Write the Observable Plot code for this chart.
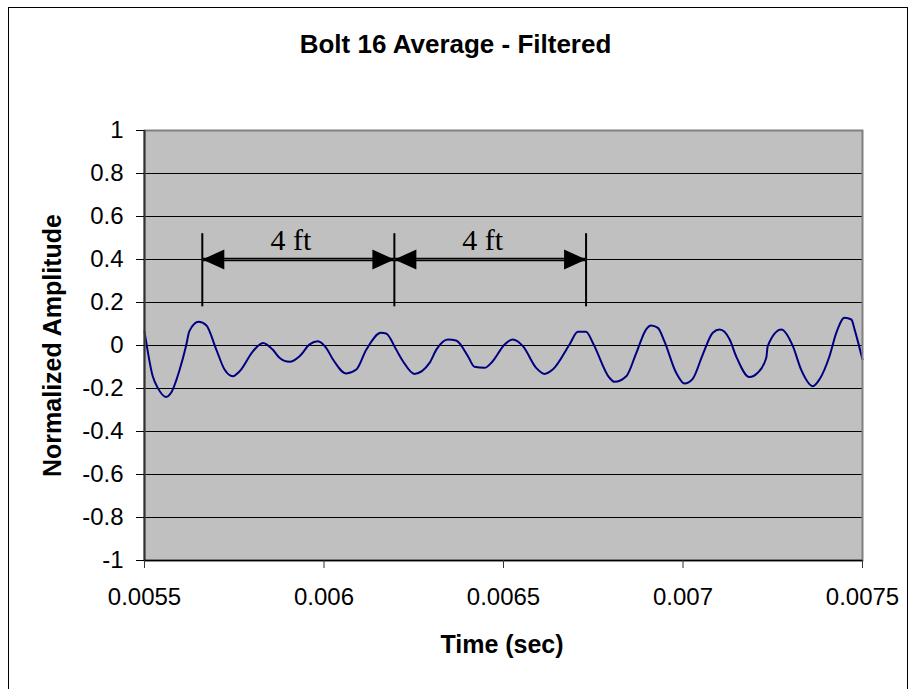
<!DOCTYPE html>
<html>
<head>
<meta charset="utf-8">
<script src="https://cdn.jsdelivr.net/npm/d3@7"></script>
<script src="https://cdn.jsdelivr.net/npm/@observablehq/plot@0.6"></script>
<style>
  html, body { margin: 0; padding: 0; background: #fff; overflow: hidden; }
  #wrap { position: relative; width: 912px; height: 689px; }
  #border { position: absolute; left: 8px; top: 7px; width: 900px; height: 720px; border: 1px solid #000; box-sizing: border-box; pointer-events: none; }
  svg { display: block; }
</style>
</head>
<body>
<div id="wrap"><div id="border"></div></div>
<script>
const time = [0.0055, 0.005523, 0.005537, 0.005560, 0.005574, 0.005598, 0.005616, 0.005625, 0.005651, 0.005672,
  0.005700, 0.005723, 0.005746, 0.005765, 0.005802, 0.005830, 0.005857, 0.005876, 0.005904, 0.005932,
  0.005960, 0.005983, 0.006006, 0.006025, 0.006062, 0.006090, 0.006118, 0.006159, 0.006173, 0.006201,
  0.006220, 0.006252, 0.006294, 0.006313, 0.006345, 0.006368, 0.006401, 0.006419, 0.006447, 0.006470,
  0.006503, 0.006526, 0.006554, 0.006591, 0.006614, 0.006637, 0.006684, 0.006707, 0.006730, 0.006749,
  0.006795, 0.006809, 0.006842, 0.006870, 0.006897, 0.006911, 0.006930, 0.006948, 0.006981, 0.007004,
  0.007027, 0.007055, 0.007083, 0.007102, 0.007130, 0.007148, 0.007185, 0.007208, 0.007232, 0.007236,
  0.007274, 0.007306, 0.007329, 0.007362, 0.007380, 0.007408, 0.007427, 0.007450, 0.007469, 0.007478, 0.0075];
const amplitude = [0.066, -0.143, -0.197, -0.239, -0.22, -0.112, 0, 0.067, 0.11, 0.094,
  -0.019, -0.112, -0.143, -0.12, -0.027, 0.012, -0.019, -0.057, -0.076, -0.05,
  0.005, 0.02, -0.011, -0.065, -0.13, -0.112, -0.019, 0.059, 0.056, -0.019,
  -0.073, -0.132, -0.081, -0.019, 0.028, 0.023, -0.05, -0.099, -0.104, -0.073,
  0.005, 0.028, -0.003, -0.104, -0.132, -0.112, 0.005, 0.064, 0.064, 0.012,
  -0.15, -0.169, -0.143, -0.034, 0.074, 0.093, 0.082, 0.02, -0.127, -0.177,
  -0.155, -0.042, 0.059, 0.074, 0.028, -0.05, -0.147, -0.127, -0.057, -0.003,
  0.074, -0.003, -0.112, -0.189, -0.158, -0.05, 0.059, 0.129, 0.121, 0.074, -0.065];

const xTicks = [0.0055, 0.006, 0.0065, 0.007, 0.0075];
const xTickLabels = ["0.0055", "0.006", "0.0065", "0.007", "0.0075"];
const yTicks = [-1, -0.8, -0.6, -0.4, -0.2, 0, 0.2, 0.4, 0.6, 0.8, 1];
const yTickLabels = ["-1", "-0.8", "-0.6", "-0.4", "-0.2", "0", "0.2", "0.4", "0.6", "0.8", "1"];
const gridLines = [-0.8, -0.6, -0.4, -0.2, 0, 0.2, 0.4, 0.6, 0.8];

// annotation: distance markers
const markerTimes = [0.005661, 0.006196, 0.006730];
const markerBottom = 0.18;
const markerTop = 0.52;
const arrowY = 0.4;
const spanLabels = ["4 ft", "4 ft"];
const spanLabelTimes = [0.005908, 0.006442];
const spanLabelY = 0.49;

const titleText = "Bolt 16 Average - Filtered";
const xLabelText = "Time (sec)";
const yLabelText = "Normalized Amplitude";

const data = time.map((t, i) => ({t, v: amplitude[i]}));
const spans = [0, 1].map(i => ({x1: markerTimes[i], x2: markerTimes[i + 1]}));
const spanText = spanLabels.map((s, i) => ({s, t: spanLabelTimes[i]}));

const headRight = {draw(ctx) { ctx.moveTo(0, 0); ctx.lineTo(-22, -10); ctx.lineTo(-22, 10); ctx.closePath(); }};
const headLeft = {draw(ctx) { ctx.moveTo(0, 0); ctx.lineTo(22, -10); ctx.lineTo(22, 10); ctx.closePath(); }};

const font = "'Liberation Sans', Arial, sans-serif";

const chart = Plot.plot({
  width: 912,
  height: 689,
  marginLeft: 144,
  marginRight: 50,
  marginTop: 130,
  marginBottom: 129,
  style: {fontFamily: font, background: "transparent", overflow: "visible", color: "#000"},
  x: {domain: [0.0055, 0.0075]},
  y: {domain: [-1, 1]},
  marks: [
    Plot.frame({fill: "#c0c0c0", stroke: "none"}),
    Plot.ruleY(gridLines, {stroke: "#000", strokeWidth: 1}),
    Plot.line(data, {x: "t", y: "v", stroke: "#000080", strokeWidth: 2, curve: "monotone-x"}),
    Plot.ruleX(markerTimes, {y1: markerBottom, y2: markerTop, stroke: "#000", strokeWidth: 2}),
    Plot.link(spans, {x1: "x1", x2: "x2", y1: arrowY, y2: arrowY, stroke: "#000", strokeWidth: 3.5}),
    Plot.link(spans, {x1: "x1", x2: "x2", y1: arrowY, y2: arrowY, stroke: "#666", strokeWidth: 0.8}),
    Plot.dot(spans, {x: "x2", y: arrowY, symbol: headRight, fill: "#000", stroke: "none"}),
    Plot.dot(spans, {x: "x1", y: arrowY, symbol: headLeft, fill: "#000", stroke: "none"}),
    Plot.text(spanText, {x: "t", y: spanLabelY, text: "s", fontSize: 30, fontFamily: "'Liberation Serif', 'Times New Roman', serif", fill: "#000"}),
    Plot.frame({stroke: "#808080", strokeWidth: 2}),
    Plot.ruleX([0.0055], {stroke: "#333", strokeWidth: 2}),
    Plot.ruleY([-1], {stroke: "#000", strokeWidth: 1.5}),
    Plot.axisY({ticks: yTicks, tickFormat: (d) => yTickLabels[yTicks.indexOf(d)], tickSize: 8, tickPadding: 13, fontSize: 24, label: null, stroke: "#000"}),
    Plot.axisX({ticks: xTicks, tickFormat: (d) => xTickLabels[xTicks.indexOf(d)], tickSize: 8, tickPadding: 19, fontSize: 24, label: null, stroke: "#333"}),
    Plot.text([titleText], {frameAnchor: "top", lineAnchor: "middle", dx: -48, dy: -86, fontSize: 26, fontWeight: "bold", fill: "#000"}),
    Plot.text([xLabelText], {frameAnchor: "bottom", lineAnchor: "middle", dx: -1.5, dy: 84, fontSize: 25, fontWeight: "bold", fill: "#000"}),
    Plot.text([yLabelText], {frameAnchor: "left", textAnchor: "middle", lineAnchor: "middle", dx: -92, rotate: -90, fontSize: 25, fontWeight: "bold", fill: "#000"})
  ]
});
document.getElementById("wrap").prepend(chart);
</script>
</body>
</html>
